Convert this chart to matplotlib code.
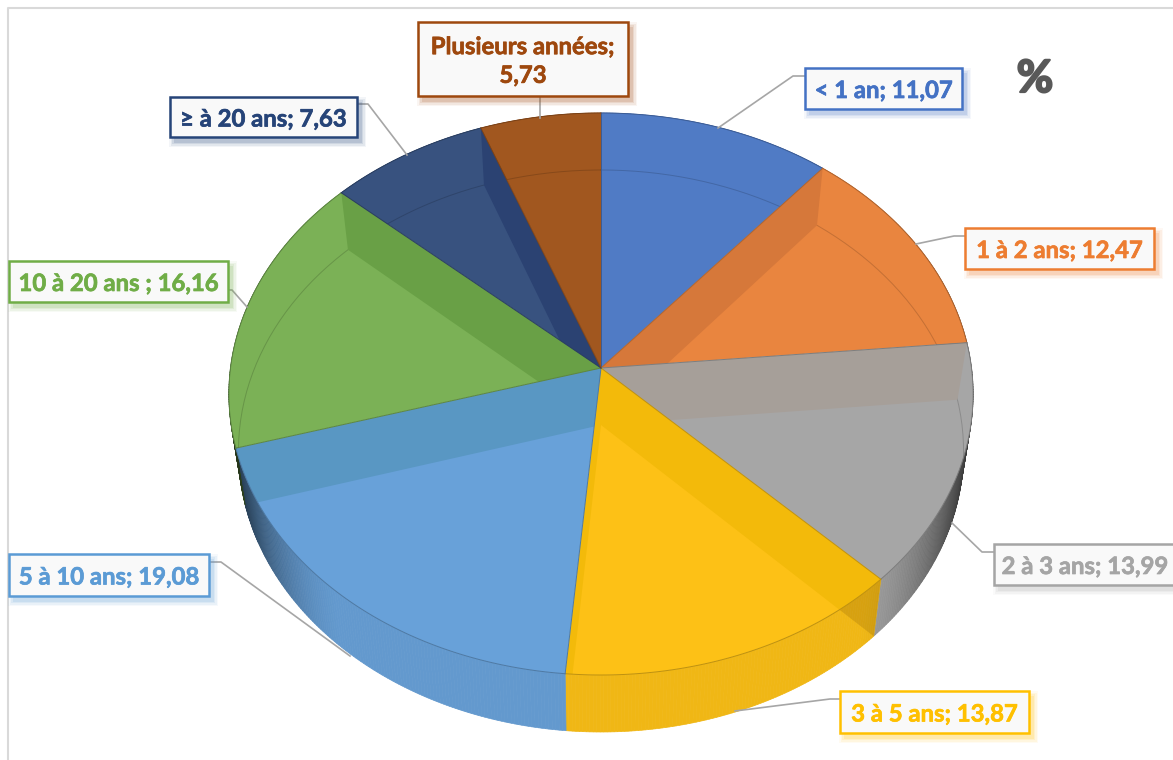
import numpy as np
import matplotlib
matplotlib.use('Agg')
import matplotlib.pyplot as plt
import matplotlib.patheffects as pe
from matplotlib.patches import Polygon, Rectangle

names = ['< 1 an', '1 à 2 ans', '2 à 3 ans', '3 à 5 ans', '5 à 10 ans', '10 à 20 ans ', '≥ à 20 ans', 'Plusieurs années']
values = [11.07, 12.47, 13.99, 13.87, 19.08, 16.16, 7.63, 5.73]

top_colors = ['#507BC5', '#E9853F', '#A6A6A6', '#FDC116', '#68A1D9', '#7BB156', '#38527F', '#A1571F']
band_colors = ['#507BC5', '#D6783A', '#A69F99', '#F3BA0A', '#5997C3', '#69A046', '#2B4272', '#A1571F']
label_colors = ['#4472C4', '#ED7D31', '#A5A5A5', '#FFC000', '#5B9BD5', '#70AD47', '#264478', '#9E480E']

# label boxes: left, top, right, bottom in pixels
boxes = [(805, 68, 962, 109), (965, 228, 1154, 269), (994, 544, 1190, 585), (840, 691, 1029, 733),
         (9, 554, 209, 596), (9, 261, 228, 302), (170, 97, 357, 137), (418, 22, 628, 96)]
leaders = [[(805, 76), (793, 76), (718, 128)], [(965, 236), (954, 236), (916, 244)],
           [(994, 552), (982, 552), (952, 523)], [(840, 699), (830, 699), (735, 711)],
           [(209, 562), (221, 562), (350, 656)], [(228, 290), (232, 290), (247, 307)],
           [(357, 104), (368, 104), (407, 155)], [(540, 96), (540, 118)]]


# perspective view of the disc, angle clockwise from the top in degrees
def project(theta, level=0, r=1.0):
    t = np.radians(theta)
    u = r * np.sin(t)
    v = r * np.cos(t)
    w = 1 + 0.0925 * v
    a = 370.5 if level == 0 else 361.0
    cy = 368 if level == 0 else 425
    return np.column_stack([601 + a * u / w, cy - 278.6 * v / w])


def shade(color, f):
    rgb = np.array(matplotlib.colors.to_rgb(color))
    return tuple(rgb * f)


def main():
    fig = plt.figure(figsize=(11.73, 7.6), dpi=100)
    ax = fig.add_axes([0, 0, 1, 1])
    ax.set_xlim(0, 1173)
    ax.set_ylim(760, 0)
    ax.axis('off')

    # chart frame
    ax.plot([8, 8, 1173], [760, 8, 8], color='#D9D9D9', lw=1.5, zorder=1)

    edges = np.concatenate([[0], np.cumsum(values)]) * 3.6
    center_top = project(np.array([0.0]), 0, 0)[0]
    center_bottom = project(np.array([0.0]), 1, 0)[0]

    # outer wall, thin strips so the shading can follow the angle
    for i in range(len(values)):
        thetas = np.arange(edges[i], edges[i + 1], 0.5)
        thetas = np.append(thetas, edges[i + 1])
        for a, b in zip(thetas[:-1], thetas[1:]):
            strip = np.vstack([project(np.array([a, b]), 0), project(np.array([b, a]), 1)])
            u = abs(np.sin(np.radians(a)))
            f = 0.95 * (1 - 0.72 * max(0, (u - 0.66) / 0.34) ** 1.6)
            col = shade(top_colors[i], f)
            ax.add_patch(Polygon(strip, closed=True, fc=col, ec=col, lw=0.5, zorder=2))

    # darker part of the 3 a 5 ans wall seen through the side
    wall = np.vstack([project(np.array([edges[3]]), 0), project(np.array([edges[3]]), 1), center_bottom, center_top])
    ax.add_patch(Polygon(wall, closed=True, fc=(0.45, 0.3, 0, 0.2), ec='none', zorder=2.5))

    # top faces
    wedges = []
    for i in range(len(values)):
        arc = project(np.linspace(edges[i], edges[i + 1], 120), 0)
        pts = np.vstack([center_top, arc])
        wedge = Polygon(pts, closed=True, fc=top_colors[i], ec='none', zorder=3)
        ax.add_patch(wedge)
        wedges.append(wedge)

    # bottom rim seen through the top faces, the walls hide part of it
    rim = project(np.linspace(0, 360, 361), 1)
    line, = ax.plot(rim[:, 0], rim[:, 1], color='black', alpha=0.16, lw=0.7, zorder=3.5)
    outline = Polygon(project(np.linspace(0, 360, 361), 0), closed=True, fc='none', ec='none', zorder=1)
    ax.add_patch(outline)
    line.set_clip_path(outline)

    # inner walls seen through the top faces
    under = [None, 1, 2, 3, 3, 4, 5, 6]
    for i in range(len(values)):
        if under[i] is None:
            continue
        theta = np.array([edges[i]])
        quad = np.vstack([center_top, project(theta, 0), project(theta, 1), center_bottom])
        band = Polygon(quad, closed=True, fc=band_colors[under[i]], ec='none', zorder=4)
        ax.add_patch(band)
        band.set_clip_path(wedges[under[i]])

    # slice edges
    for i in range(len(values)):
        end = project(np.array([edges[i]]), 0)[0]
        ax.plot([center_top[0], end[0]], [center_top[1], end[1]], color=shade(top_colors[i], 0.75), lw=0.7, zorder=6)
        arc = project(np.linspace(edges[i], edges[i + 1], 120), 0)
        ax.plot(arc[:, 0], arc[:, 1], color=shade(top_colors[i], 0.75), lw=0.7, zorder=6)

    # leaders
    for pts in leaders:
        xs, ys = zip(*pts)
        ax.plot(xs, ys, color='#A6A6A6', lw=1.2, zorder=7)

    # data labels with a soft shadow
    for i in range(len(values)):
        x0, y0, x1, y1 = boxes[i]
        for grow, alpha in zip([5, 3.5, 2, 0.5], [0.05, 0.08, 0.1, 0.14]):
            ax.add_patch(Rectangle((x0 + 4 - grow, y0 + 5 - grow), x1 - x0 + 2 * grow, y1 - y0 + 2 * grow,
                                   fc=label_colors[i], ec='none', alpha=alpha, zorder=8))
        ax.add_patch(Rectangle((x0, y0), x1 - x0, y1 - y0, fc='#F9F9F9', ec=label_colors[i], lw=1.8, zorder=9))
        value = f'{values[i]:.2f}'.replace('.', ',')
        if names[i] == 'Plusieurs années':
            txt = f'{names[i]};\n{value}'
        else:
            txt = f'{names[i]}; {value}'
        cx = (x0 + x1) / 2
        if i == 2:
            cx = 1085
        t = ax.text(cx, (y0 + y1) / 2 + 2, txt, color=label_colors[i], family='Lato', weight='bold', fontsize=17.2,
                    ha='center', va='center', linespacing=1.3, zorder=10)
        t.set_path_effects([pe.withStroke(linewidth=0.5, foreground=label_colors[i])])

    pct = ax.text(1035, 79, '%', color='#595959', family='Lato', weight='bold', fontsize=32, ha='center', va='center', zorder=10)
    pct.set_path_effects([pe.withStroke(linewidth=1.6, foreground='#595959')])

    fig.savefig('out.png', dpi=100)


if __name__ == '__main__':
    main()
